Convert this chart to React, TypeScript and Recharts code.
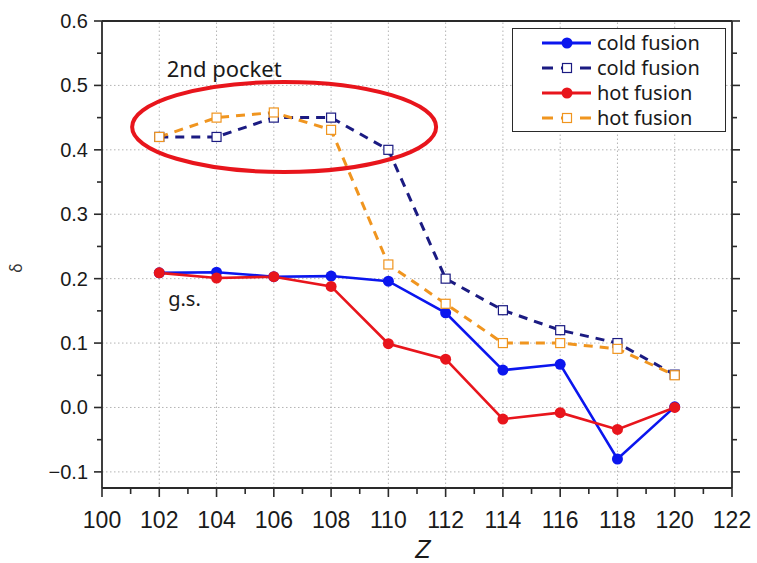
import React from "react";
import { LineChart, Line, XAxis, YAxis, ReferenceLine, ReferenceDot, Legend } from "recharts";

// proton number Z
const zValues = [102, 104, 106, 108, 110, 112, 114, 116, 118, 120];

// deformation δ at the ground state
const coldFusionGs = [0.209, 0.21, 0.203, 0.204, 0.196, 0.147, 0.058, 0.067, -0.08, 0.001];
const hotFusionGs = [0.209, 0.201, 0.203, 0.188, 0.099, 0.075, -0.018, -0.008, -0.034, 0.0];

// deformation δ in the second pocket
const coldFusion2nd = [0.42, 0.42, 0.45, 0.45, 0.4, 0.2, 0.151, 0.12, 0.1, 0.051];
const hotFusion2nd = [0.42, 0.45, 0.458, 0.431, 0.222, 0.161, 0.1, 0.1, 0.091, 0.05];

// axis ticks
const xMajorTicks = [100, 102, 104, 106, 108, 110, 112, 114, 116, 118, 120, 122];
const xMinorTicks = [101, 103, 105, 107, 109, 111, 113, 115, 117, 119, 121];
const yMajorTicks = [-0.1, 0, 0.1, 0.2, 0.3, 0.4, 0.5, 0.6];
const yMinorTicks = [-0.05, 0.05, 0.15, 0.25, 0.35, 0.45, 0.55];
const xGridLines = [102, 104, 106, 108, 110, 112, 114, 116, 118, 120];
const yGridLines = [-0.1, 0, 0.1, 0.2, 0.3, 0.4, 0.5];

const xTicks = [...xMajorTicks, ...xMinorTicks].sort((a, b) => a - b);
const yTicks = [...yMajorTicks, ...yMinorTicks].sort((a, b) => a - b);

const data = zValues.map((z, i) => ({
  z,
  coldGs: coldFusionGs[i],
  cold2nd: coldFusion2nd[i],
  hotGs: hotFusionGs[i],
  hot2nd: hotFusion2nd[i],
}));

const BLUE = "#0b16ee";
const NAVY = "#1b1b82";
const RED = "#e8151c";
const ORANGE = "#f0951f";
const AXIS = "#2a2a2a";
const GRID = "#b4b4b4";
const FONT = "'Liberation Sans', Arial, sans-serif";
const LABEL_FONT = "'Noto Sans', sans-serif";

const fmtY = (v: number) => (v < 0 ? "\u2212" + Math.abs(v).toFixed(1) : v.toFixed(1));

const BottomTick = ({ x, y, payload }: any) => {
  const major = xMajorTicks.includes(payload.value);
  return (
    <g>
      <line x1={x} y1={y} x2={x} y2={y + (major ? 9 : 6)} stroke={AXIS} strokeWidth={1.6} />
      {major && (
        <text x={x} y={y + 40} textAnchor="middle" fontSize={23} fontFamily={FONT} fill="#1a1a1a">
          {payload.value}
        </text>
      )}
    </g>
  );
};

const TopTick = ({ x, y, payload }: any) => {
  const major = xMajorTicks.includes(payload.value);
  return <line x1={x} y1={y} x2={x} y2={y - (major ? 9 : 6)} stroke={AXIS} strokeWidth={1.6} />;
};

const LeftTick = ({ x, y, payload }: any) => {
  const major = yMajorTicks.includes(payload.value);
  return (
    <g>
      <line x1={x} y1={y} x2={x - (major ? 8 : 5)} y2={y} stroke={AXIS} strokeWidth={1.6} />
      {major && (
        <text x={x - 14} y={y + 7} textAnchor="end" fontSize={20} fontFamily={FONT} fill="#1a1a1a">
          {fmtY(payload.value)}
        </text>
      )}
    </g>
  );
};

const RightTick = ({ x, y, payload }: any) => {
  const major = yMajorTicks.includes(payload.value);
  return <line x1={x} y1={y} x2={x + (major ? 8 : 5)} y2={y} stroke={AXIS} strokeWidth={1.6} />;
};

const renderSquare = (color: string) => (props: any) => {
  const { cx, cy, index } = props;
  return (
    <rect key={index} x={cx - 4.5} y={cy - 4.5} width={9} height={9} fill="#fff" stroke={color} strokeWidth={1.2} />
  );
};

const renderCircle = (color: string) => (props: any) => {
  const { cx, cy, index } = props;
  return <circle key={index} cx={cx} cy={cy} r={5.5} fill={color} stroke="none" />;
};

const LegendBox = ({ payload }: any) => (
  <div
    style={{
      border: `1.5px solid ${AXIS}`,
      background: "#fff",
      boxSizing: "border-box",
      width: 214,
      height: 104,
      paddingTop: 1,
    }}
  >
    {(payload || []).map((entry: any) => {
      const dashed = !!entry.payload?.strokeDasharray;
      return (
        <div key={entry.dataKey} style={{ display: "flex", alignItems: "center", height: 25 }}>
          <svg width={84} height={16} style={{ flex: "none" }}>
            {dashed ? (
              <g>
                <line x1={29} y1={8} x2={78} y2={8} stroke={entry.color} strokeWidth={3} strokeDasharray="11 8" />
                <rect x={49.5} y={3.5} width={9} height={9} fill="#fff" stroke={entry.color} strokeWidth={1.2} />
              </g>
            ) : (
              <g>
                <line x1={29} y1={8} x2={78} y2={8} stroke={entry.color} strokeWidth={3} />
                <circle cx={54} cy={8} r={5.5} fill={entry.color} />
              </g>
            )}
          </svg>
          <span style={{ fontFamily: LABEL_FONT, fontSize: 20, color: "#1a1a1a", lineHeight: "25px" }}>
            {entry.value}
          </span>
        </div>
      );
    })}
  </div>
);

export default function App() {
  return (
    <div style={{ position: "absolute", left: 0, top: 0, width: 757, height: 563, background: "#fff" }}>
      <LineChart width={757} height={563} data={data} margin={{ top: 1, right: 0, bottom: 0, left: 0 }}>
        <XAxis
          xAxisId="bottom"
          dataKey="z"
          type="number"
          domain={[100, 122]}
          ticks={xTicks}
          interval={0}
          allowDataOverflow
          height={75}
          tickSize={0}
          tickMargin={0}
          tickLine={false}
          axisLine={{ stroke: AXIS, strokeWidth: 1.8 }}
          tick={<BottomTick />}
          label={{
            content: ({ viewBox }: any) => (
              <text
                x={viewBox.x + viewBox.width / 2 + 6}
                y={viewBox.y + 70}
                textAnchor="middle"
                fontSize={25}
                fontStyle="italic"
                fontFamily={FONT}
                fill="#1a1a1a"
              >
                Z
              </text>
            ),
          }}
        />
        <XAxis
          xAxisId="top"
          orientation="top"
          type="number"
          domain={[100, 122]}
          ticks={xTicks}
          interval={0}
          allowDataOverflow
          height={20}
          tickSize={0}
          tickMargin={0}
          tickLine={false}
          axisLine={{ stroke: AXIS, strokeWidth: 1.8 }}
          tick={<TopTick />}
        />
        <YAxis
          yAxisId="left"
          type="number"
          domain={[-0.125, 0.6]}
          ticks={yTicks}
          interval={0}
          allowDataOverflow
          width={102}
          tickSize={0}
          tickMargin={0}
          tickLine={false}
          axisLine={{ stroke: AXIS, strokeWidth: 1.8 }}
          tick={<LeftTick />}
          label={{
            content: () => (
              <text
                x={22}
                y={268}
                transform="rotate(-90 22 268)"
                textAnchor="middle"
                fontSize={16}
                fontFamily={LABEL_FONT}
                fill="#333"
              >
                δ
              </text>
            ),
          }}
        />
        <YAxis
          yAxisId="right"
          orientation="right"
          type="number"
          domain={[-0.125, 0.6]}
          ticks={yTicks}
          interval={0}
          allowDataOverflow
          width={25}
          tickSize={0}
          tickMargin={0}
          tickLine={false}
          axisLine={{ stroke: AXIS, strokeWidth: 1.8 }}
          tick={<RightTick />}
        />

        {/* dotted grid at the labelled ticks */}
        {xGridLines.map((v) => (
          <ReferenceLine
            key={"gx" + v}
            x={v}
            xAxisId="bottom"
            yAxisId="left"
            stroke={GRID}
            strokeWidth={1}
            strokeDasharray="1.5 2.5"
          />
        ))}
        {yGridLines.map((v) => (
          <ReferenceLine
            key={"gy" + v}
            y={v}
            xAxisId="bottom"
            yAxisId="left"
            stroke={GRID}
            strokeWidth={1}
            strokeDasharray="1.5 2.5"
          />
        ))}

        <Line
          xAxisId="bottom"
          yAxisId="left"
          dataKey="coldGs"
          name="cold fusion"
          stroke={BLUE}
          strokeWidth={2.6}
          dot={renderCircle(BLUE)}
          isAnimationActive={false}
        />
        <Line
          xAxisId="bottom"
          yAxisId="left"
          dataKey="cold2nd"
          name="cold fusion"
          stroke={NAVY}
          strokeWidth={3}
          strokeDasharray="9 7"
          dot={renderSquare(NAVY)}
          isAnimationActive={false}
        />
        <Line
          xAxisId="bottom"
          yAxisId="left"
          dataKey="hotGs"
          name="hot fusion"
          stroke={RED}
          strokeWidth={2.6}
          dot={renderCircle(RED)}
          isAnimationActive={false}
        />
        <Line
          xAxisId="bottom"
          yAxisId="left"
          dataKey="hot2nd"
          name="hot fusion"
          stroke={ORANGE}
          strokeWidth={3}
          strokeDasharray="9 7"
          dot={renderSquare(ORANGE)}
          isAnimationActive={false}
        />

        {/* second-pocket highlight */}
        <ReferenceDot
          xAxisId="bottom"
          yAxisId="left"
          x={106.36}
          y={0.4355}
          ifOverflow="visible"
          shape={(p: any) => (
            <ellipse cx={p.cx} cy={p.cy} rx={152} ry={45} fill="none" stroke={RED} strokeWidth={4} />
          )}
        />
        <ReferenceDot
          xAxisId="bottom"
          yAxisId="left"
          x={102.26}
          y={0.5136}
          ifOverflow="visible"
          shape={(p: any) => (
            <text x={p.cx} y={p.cy} fontSize={22} fontFamily={LABEL_FONT} fill="#1a1a1a">
              2nd pocket
            </text>
          )}
        />
        <ReferenceDot
          xAxisId="bottom"
          yAxisId="left"
          x={102.31}
          y={0.1576}
          ifOverflow="visible"
          shape={(p: any) => (
            <text x={p.cx} y={p.cy} fontSize={20} fontFamily={LABEL_FONT} fill="#1a1a1a">
              g.s.
            </text>
          )}
        />

        <Legend
          layout="vertical"
          verticalAlign="middle"
          align="center"
          wrapperStyle={{ left: 512, top: 28, width: 214, height: 104 }}
          content={<LegendBox />}
        />
      </LineChart>
    </div>
  );
}
